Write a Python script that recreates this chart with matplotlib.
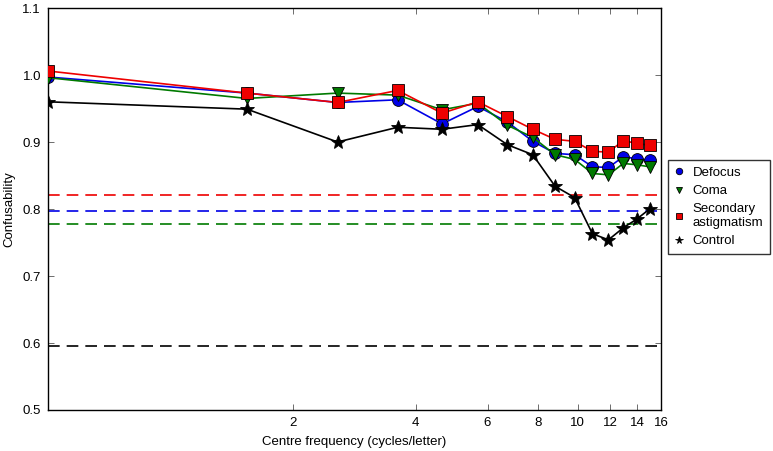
import matplotlib
matplotlib.use('Agg')
import matplotlib.pyplot as plt
from matplotlib.ticker import FixedLocator, NullLocator

plt.rcParams['font.family'] = ['Liberation Sans', 'DejaVu Sans']
plt.rcParams['font.size'] = 9.5

# centre frequencies (cycles/letter)
freq = [0.5, 1.54, 2.57, 3.61, 4.64, 5.68, 6.71, 7.75, 8.79, 9.82, 10.86, 11.89, 12.93, 13.96, 15.0]

defocus = [0.997, 0.973, 0.959, 0.963, 0.927, 0.953, 0.930, 0.901, 0.883, 0.881, 0.863, 0.862, 0.878, 0.875, 0.873]
coma = [0.996, 0.965, 0.973, 0.970, 0.948, 0.958, 0.925, 0.907, 0.881, 0.874, 0.853, 0.851, 0.868, 0.866, 0.863]
sec_astig = [1.006, 0.973, 0.959, 0.977, 0.943, 0.960, 0.938, 0.919, 0.904, 0.901, 0.886, 0.885, 0.902, 0.898, 0.895]
control = [0.960, 0.949, 0.900, 0.922, 0.919, 0.926, 0.896, 0.881, 0.834, 0.817, 0.763, 0.754, 0.772, 0.785, 0.800]

# baseline levels (dashed)
base_sec_astig = 0.821
base_defocus = 0.797
base_coma = 0.778
base_control = 0.595

xticks = [2, 4, 6, 8, 10, 12, 14, 16]

fig = plt.figure(figsize=(7.73, 4.51), dpi=100)
ax = fig.add_axes([48 / 773, 1 - 410 / 451, 613 / 773, 402 / 451])

blue = '#0000e6'
green = '#007a00'
red = '#ee0000'

ms = 8.5
ax.plot(freq, defocus, color=blue, marker='o', ms=ms, mec='black', mew=0.6, lw=1.2, label='Defocus', zorder=3)
ax.plot(freq, coma, color=green, marker='v', ms=ms, mec='black', mew=0.6, lw=1.2, label='Coma', zorder=3)
ax.plot(freq, sec_astig, color=red, marker='s', ms=ms, mec='black', mew=0.6, lw=1.2, label='Secondary\nastigmatism', zorder=3)
ax.plot(freq, control, color='black', marker='*', ms=ms + 1.5, mec='black', mew=0.6, lw=1.2, label='Control', zorder=3)

dash = dict(ls=(0, (7, 4.2)), lw=1.2, zorder=2)
ax.axhline(base_sec_astig, color=red, **dash)
ax.axhline(base_defocus, color=blue, **dash)
ax.axhline(base_coma, color=green, **dash)
ax.axhline(base_control, color='black', **dash)

ax.set_xscale('log')
ax.set_xlim(0.5, 16)
ax.set_ylim(0.5, 1.1)
ax.xaxis.set_major_locator(FixedLocator(xticks))
ax.xaxis.set_minor_locator(NullLocator())
ax.set_xticklabels([str(t) for t in xticks])
ax.set_yticks([0.5, 0.6, 0.7, 0.8, 0.9, 1.0, 1.1])
ax.tick_params(direction='in', top=True, right=True, length=4, width=0.6, color='#555555', pad=5)
for s in ax.spines.values():
    s.set_linewidth(1.0)

ax.set_xlabel('Centre frequency (cycles/letter)', labelpad=5)
ax.set_ylabel('Confusability', labelpad=5)

leg = ax.legend(loc='center left', bbox_to_anchor=(1.005, 0.505), numpoints=1,
                handlelength=0.6, markerscale=0.55, fancybox=False,
                handletextpad=0.7, labelspacing=0.45, borderpad=0.55, borderaxespad=0.3)
for h in leg.get_lines():
    h.set_linestyle('none')
leg.get_frame().set_edgecolor('black')
leg.get_frame().set_linewidth(1.0)

fig.savefig('out.png', dpi=100)
